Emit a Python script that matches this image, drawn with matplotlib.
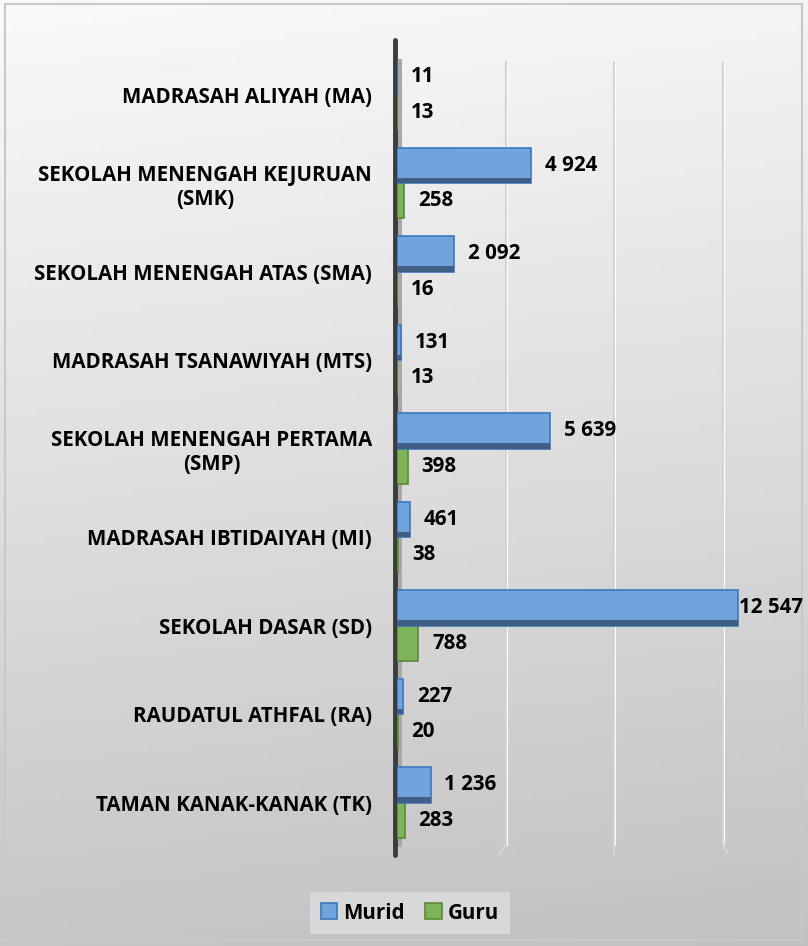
import numpy as np
import matplotlib.pyplot as plt
from matplotlib.patches import Rectangle

categories = ["MADRASAH ALIYAH (MA)", "SEKOLAH MENENGAH KEJURUAN\n(SMK)",
              "SEKOLAH MENENGAH ATAS (SMA)", "MADRASAH TSANAWIYAH (MTS)",
              "SEKOLAH MENENGAH PERTAMA\n(SMP)", "MADRASAH IBTIDAIYAH (MI)",
              "SEKOLAH DASAR (SD)", "RAUDATUL ATHFAL (RA)", "TAMAN KANAK-KANAK (TK)"]
murid = [11, 4924, 2092, 131, 5639, 461, 12547, 227, 1236]
guru = [13, 258, 16, 13, 398, 38, 788, 20, 283]
grid_vals = [4000, 8000, 12000]

plt.rcParams['font.family'] = ['Open Sans', 'DejaVu Sans']
plt.rcParams['font.weight'] = 'bold'
FS = 14.8

W, H = 808, 946
fig = plt.figure(figsize=(W/100, H/100), dpi=100)

# background gradient
bg = fig.add_axes([0, 0, 1, 1], zorder=-10)
yy, xx = np.mgrid[0:1:200j, 0:1:200j]
shade = 0.975 - 0.20*yy - 0.02*xx
bg.imshow(shade, cmap='gray', vmin=0, vmax=1, extent=[0, 1, 0, 1], aspect='auto', origin='upper')
bg.add_patch(Rectangle((5/W, 6/H), 797/W, 936/H, fill=False, edgecolor='#c8c8c8', lw=1.5))
bg.set_xlim(0, 1); bg.set_ylim(0, 1)
bg.axis('off')

ax = fig.add_axes([397/W, 1-855/H, 367/W, 815/H])
ax.patch.set_alpha(0)
for s in ax.spines.values():
    s.set_visible(False)

y = np.arange(len(categories))
blue_face, blue_edge = '#6fa5dc', '#3a78c0'
green_face, green_edge = '#7db45a', '#5a8a32'

# grid lines
for i, g in enumerate(grid_vals):
    ax.plot([g, g], [-0.37, 8.48], color='#d4d4d4', lw=1.6, zorder=1)
    ax.plot([g + 30, g + 30], [-0.37, 8.48], color='white', lw=0.8, zorder=1)
    foot = [-250, 0, 200][i]
    ax.plot([g, g + foot], [8.48, 8.59], color='#d4d4d4', lw=1.6, zorder=1)

# 3D side wall along the axis
ax.add_patch(Rectangle((0, -0.4), 200, 8.9, facecolor='#a8a8a8', edgecolor='none', zorder=2))
ax.plot([-60, -60], [-0.616, 8.593], color='#3c3c3c', lw=3.5, zorder=3,
        solid_capstyle='round', clip_on=False)

bh = 0.40
ax.barh(y + 0.2, guru, height=bh, color=green_face, edgecolor=green_edge, lw=1.2, zorder=4)
ax.barh(y - 0.2, murid, height=bh, color=blue_face, edgecolor=blue_edge, lw=1.2, zorder=5)
ax.barh(y - 0.2 + 0.17, murid, height=0.06, color='#3f5f85', edgecolor='none', zorder=5)

def fmt(v):
    return f"{v:,}".replace(",", " ")

for yi, m, g in zip(y, murid, guru):
    ax.annotate(fmt(m), (m, yi - 0.2), xytext=(10 if m < 10000 else 1, 0), textcoords='offset points',
                ha='left', va='center', fontsize=FS, fontweight='bold', zorder=6, annotation_clip=False)
    ax.annotate(fmt(g), (g, yi + 0.2), xytext=(10, 0), textcoords='offset points',
                ha='left', va='center', fontsize=FS, fontweight='bold', zorder=6, annotation_clip=False)

ax.set_xlim(0, 13500)
ax.set_ylim(8.593, -0.616)
ax.set_xticks([])
ax.set_yticks(y)
ax.set_yticklabels(categories, fontsize=FS, fontweight='bold', multialignment='center')
ax.tick_params(axis='y', length=0, pad=18)

handles = [Rectangle((0, 0), 1, 1, facecolor=blue_face, edgecolor=blue_edge, lw=1.2),
           Rectangle((0, 0), 1, 1, facecolor=green_face, edgecolor=green_edge, lw=1.2)]
leg = fig.legend(handles, ['Murid', 'Guru'], loc='center', bbox_to_anchor=(410/W, 1-913/H),
                 ncol=2, frameon=True, fancybox=False, handlelength=0.8,
                 handleheight=0.8, handletextpad=0.3, columnspacing=1.0, borderpad=0.5,
                 prop={'family': ['Open Sans', 'DejaVu Sans'], 'weight': 'bold', 'size': FS})
leg.get_frame().set_facecolor('#d8d8d8')
leg.get_frame().set_edgecolor('none')
leg.get_frame().set_alpha(1)

fig.savefig('out.png', dpi=100)
